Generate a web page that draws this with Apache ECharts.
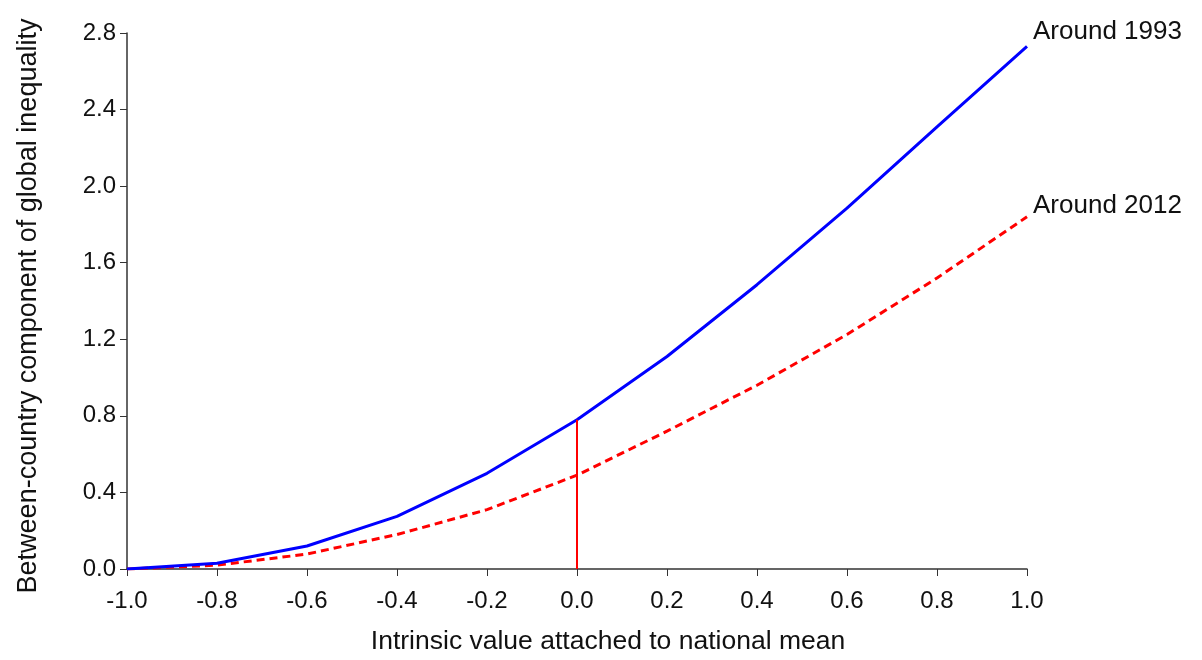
<!DOCTYPE html>
<html>
<head>
<meta charset="utf-8">
<script src="https://cdn.jsdelivr.net/npm/echarts@6/dist/echarts.min.js"></script>
<style>
  html, body { margin: 0; padding: 0; background: #fff; }
  #main { width: 1202px; height: 660px; }
</style>
</head>
<body>
<div id="main"></div>
<script>
// intrinsic value attached to national mean
var xValues = [-1.0, -0.8, -0.6, -0.4, -0.2, 0.0, 0.2, 0.4, 0.6, 0.8, 1.0];
// between-country component, around 1993
var around1993 = [0.0, 0.03, 0.12, 0.275, 0.50, 0.78, 1.11, 1.485, 1.885, 2.31, 2.73];
// between-country component, around 2012
var around2012 = [0.0, 0.02, 0.078, 0.18, 0.31, 0.49, 0.72, 0.96, 1.225, 1.52, 1.84];
var seriesNames = ['Around 1993', 'Around 2012'];

function pairs(ys) {
    return xValues.map(function (x, i) { return [x, ys[i]]; });
}

var myChart = echarts.init(document.getElementById('main'));

var font = 'Liberation Sans';

var option = {
    animation: false,
    grid: {
        left: 127,
        right: 175,
        top: 33,
        bottom: 89
    },
    xAxis: {
        type: 'value',
        min: -1,
        max: 1,
        interval: 0.2,
        name: 'Intrinsic value attached to national mean',
        nameLocation: 'middle',
        nameGap: 59,
        nameTextStyle: { fontFamily: font, fontSize: 26.5, color: '#111', padding: [0, 0, 0, 62] },
        axisLine: { show: true, onZero: false, lineStyle: { color: '#333', width: 1.5 } },
        axisTick: { show: true, length: 7, lineStyle: { color: '#333' } },
        axisLabel: {
            fontFamily: font, fontSize: 24, color: '#111', margin: 20,
            formatter: function (v) { return v.toFixed(1); }
        },
        splitLine: { show: false }
    },
    yAxis: {
        type: 'value',
        min: 0,
        max: 2.8,
        interval: 0.4,
        name: 'Between-country component of global inequality',
        nameLocation: 'middle',
        nameGap: 85,
        nameTextStyle: { fontFamily: font, fontSize: 27, color: '#111', padding: [0, 10, 0, 0] },
        axisLine: { show: true, onZero: false, lineStyle: { color: '#333', width: 1.5 } },
        axisTick: { show: true, length: 7, lineStyle: { color: '#333' } },
        axisLabel: {
            fontFamily: font, fontSize: 24, color: '#111', margin: 11,
            formatter: function (v) { return v.toFixed(1); }
        },
        splitLine: { show: false }
    },
    series: [
        {
            name: seriesNames[0],
            type: 'line',
            data: pairs(around1993),
            showSymbol: false,
            lineStyle: { color: '#0000ff', width: 3 },
            endLabel: {
                show: true,
                formatter: seriesNames[0],
                fontFamily: font,
                fontSize: 26,
                color: '#111',
                distance: 6,
                offset: [0, -15]
            },
            markLine: {
                silent: true,
                symbol: 'none',
                label: { show: false },
                lineStyle: { color: '#ff0000', width: 2, type: 'solid' },
                data: [[
                    { coord: [0, 0] },
                    { coord: [0, around1993[5]] }
                ]]
            },
            z: 3
        },
        {
            name: seriesNames[1],
            type: 'line',
            data: pairs(around2012),
            showSymbol: false,
            lineStyle: { color: '#ff0000', width: 3, type: [8, 5] },
            endLabel: {
                show: true,
                formatter: seriesNames[1],
                fontFamily: font,
                fontSize: 26,
                color: '#111',
                distance: 6,
                offset: [0, -11]
            },
            z: 2
        }
    ]
};

myChart.setOption(option);
</script>
</body>
</html>
